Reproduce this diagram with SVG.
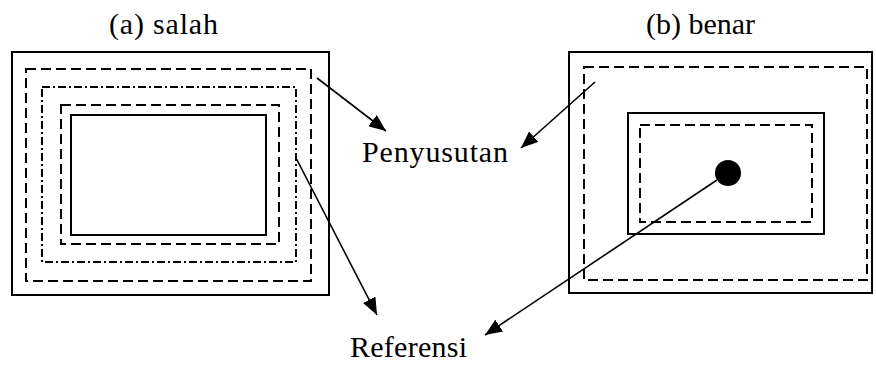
<svg xmlns="http://www.w3.org/2000/svg" width="876" height="365" viewBox="0 0 876 365">
  <style>
    .solid { fill: none; stroke: #000; stroke-width: 2; }
    .dash { fill: none; stroke: #000; stroke-width: 2; stroke-dasharray: 10 5; }
    .dashdot { fill: none; stroke: #000; stroke-width: 2; stroke-dasharray: 8 3 2 3; }
    .lbl { font-family: "Liberation Serif", "Times New Roman", serif; font-size: 30px; fill: #000; }
    .conn { fill: none; stroke: #000; stroke-width: 1.6; marker-end: url(#head); }
  </style>
  <defs>
    <marker id="head" markerUnits="userSpaceOnUse" markerWidth="18" markerHeight="14" refX="17" refY="7" orient="auto">
      <path d="M0,0 L17,7 L0,14 z" fill="#000"/>
    </marker>
  </defs>
  <rect width="876" height="365" fill="#fff"/>

  <!-- left panel: nested outlines -->
  <g id="panel-a">
    <text class="lbl" x="109" y="34" textLength="109">(a) salah</text>
    <rect class="solid" x="12" y="52" width="317" height="243"/>
    <rect class="dash" x="26" y="69" width="285" height="212"/>
    <rect class="dashdot" x="42" y="87" width="254" height="175"/>
    <rect class="dash" x="61" y="105" width="218" height="139"/>
    <rect class="solid" x="71" y="115" width="195" height="120"/>
  </g>

  <!-- right panel: outlines with reference point -->
  <g id="panel-b">
    <text class="lbl" x="646" y="34">(b) benar</text>
    <rect class="solid" x="569" y="52" width="303" height="241"/>
    <rect class="dash" x="584" y="67" width="283" height="213"/>
    <rect class="solid" x="628" y="113" width="196" height="121"/>
    <rect class="dash" x="640" y="125" width="172" height="97"/>
    <circle cx="728" cy="173" r="13" fill="#000"/>
  </g>

  <g id="label-penyusutan">
    <text class="lbl" x="362" y="162" textLength="146">Penyusutan</text>
  </g>
  <g id="label-referensi">
    <text class="lbl" x="350" y="357" textLength="117">Referensi</text>
  </g>

  <g id="connectors">
    <line class="conn" x1="317" y1="78" x2="386" y2="131"/>
    <line class="conn" x1="296" y1="158" x2="377" y2="315"/>
    <line class="conn" x1="595" y1="82" x2="521" y2="148"/>
    <line class="conn" x1="717" y1="180" x2="485" y2="335"/>
  </g>
</svg>
